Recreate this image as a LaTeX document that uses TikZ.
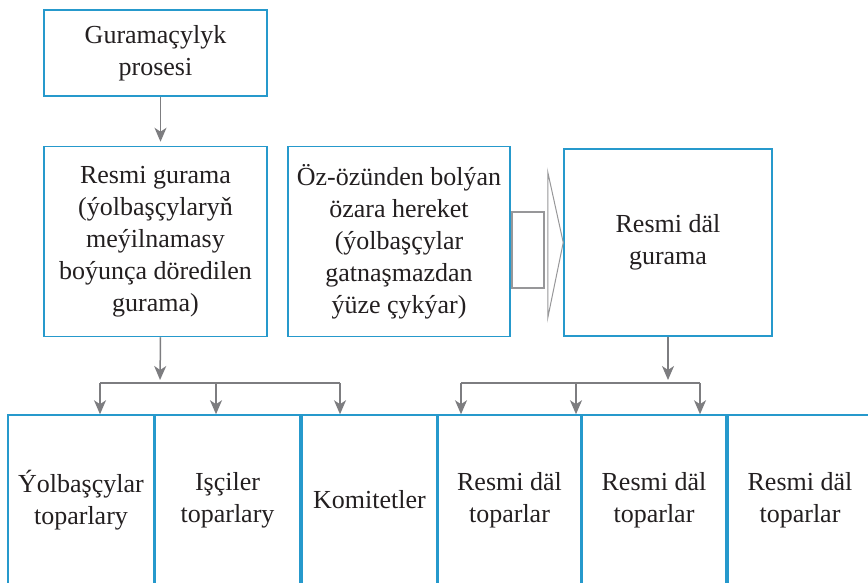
\documentclass[tikz,border=0pt]{standalone}
\usepackage{fontspec}
\setmainfont{LiberationSerif}[Extension=.ttf, UprightFont=*-Regular,
  BoldFont=*-Bold, ItalicFont=*-Italic, BoldItalicFont=*-BoldItalic]
\usepackage{tikz}
\usetikzlibrary{arrows.meta, positioning, calc}
\definecolor{boxblue}{RGB}{38,153,204}
\definecolor{arrgrey}{RGB}{125,125,128}
\definecolor{txtdark}{RGB}{35,31,32}
\tikzstyle{arrow} = [line width=1.5pt, draw=arrgrey,
                     -{Stealth[length=14pt,width=12pt,inset=4pt]}]
\tikzstyle{branch} = [line width=1.5pt, draw=arrgrey]

\begin{document}
\begin{tikzpicture}[x=1pt, y=-1pt,
    block/.style={rectangle, draw=boxblue, line width=1.5pt, fill=white,
                  align=center, text=txtdark, inner sep=2pt,
                  font=\fontsize{26}{32}\selectfont},
    upper/.style={block, minimum width=222pt, minimum height=190pt},
    leaf/.style={block, minimum height=170pt},
    hollow/.style={draw=arrgrey!80, fill=white}]

  \useasboundingbox (0,0) rectangle (868,583);
  \clip (0,0) rectangle (868,583);

  \node[block, minimum width=223pt, minimum height=86pt] (proc) at (155.5,53)
       {Guramaçylyk\\prosesi};
  \node[upper, minimum width=223pt] (fgroup) at (155.5,241.5)
       {Resmi gurama\\(ýolbaşçylaryň\\meýilnamasy\\boýunça döredilen\\gurama)};
  \node[upper] (spont)  at (399,241.5)
       {Öz-özünden bolýan\\özara hereket\\(ýolbaşçylar\\gatnaşmazdan\\ýüze çykýar)};
  \node[upper, minimum width=208pt, minimum height=187pt] (igroup) at (668,242.5)
       {Resmi däl\\gurama};

  \node[leaf, minimum width=146pt] (lead)  at (81,500)    {Ýolbaşçylar\\toparlary};
  \node[leaf, minimum width=145pt] (work)  at (227.5,500) {Işçiler\\toparlary};
  \node[leaf, minimum width=135pt] (comm)  at (369.5,500) {Komitetler};
  \node[leaf, minimum width=143pt] (inf1)  at (509.5,500) {Resmi däl\\toparlar};
  \node[leaf, minimum width=144pt] (inf2)  at (654,500)   {Resmi däl\\toparlar};
  \node[leaf, minimum width=144pt] (inf3)  at (800,500)   {Resmi däl\\toparlar};

  % branching points
  \coordinate (lj) at (160,383);
  \coordinate (ll) at (100,383);
  \coordinate (lm) at (216,383);
  \coordinate (lr) at (340,383);
  \coordinate (rj) at (668,383);
  \coordinate (rl) at (461,383);
  \coordinate (rm) at (576,383);
  \coordinate (rr) at (700,383);

  \draw[arrow, shorten >=4pt] ([xshift=5pt]proc.south) -- ([xshift=5pt]fgroup.north);
  \draw[arrow, shorten >=3pt] ([xshift=5pt]fgroup.south) -- (lj);
  \draw[arrow, shorten >=3pt] (igroup.south) -- (rj);
  \draw[branch] (ll) -- (lr);
  \draw[branch] (rl) -- (rr);
  \draw[arrow] (ll) -- (ll |- lead.north);
  \draw[arrow] (lm) -- (lm |- work.north);
  \draw[arrow] (lr) -- (lr |- comm.north);
  \draw[arrow] (rl) -- (rl |- inf1.north);
  \draw[arrow] (rm) -- (rm |- inf2.north);
  \draw[arrow] (rr) -- (rr |- inf3.north);

  % hollow block arrow between the two upper boxes
  \draw[hollow, line width=1.5pt] ($(spont.east)+(1,-29.5)$) rectangle ($(spont.east)+(33,46.5)$);
  \draw[hollow, line width=1pt] ($(spont.east)+(37,-69.5)$) -- (igroup.west)
        -- ($(spont.east)+(37,76.5)$) -- cycle;
\end{tikzpicture}
\end{document}
